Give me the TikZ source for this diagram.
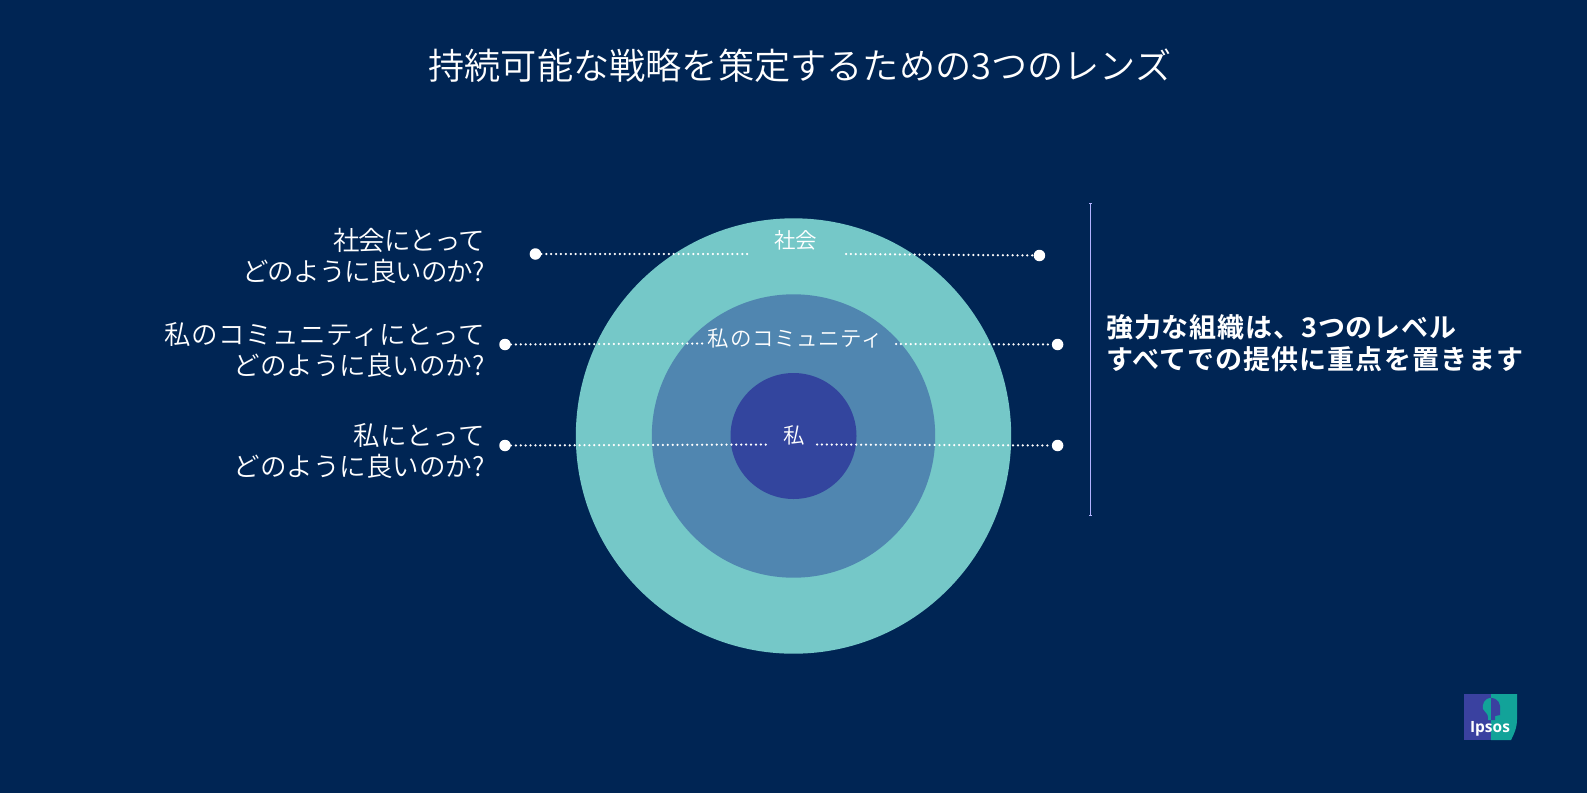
\documentclass[tikz,border=0pt]{standalone}
\usepackage{fontspec}
\setmainfont{Noto Sans CJK JP}[UprightFont=* DemiLight,BoldFont=* Bold]
\newfontfamily\logofont{Open Sans}
\newcommand{\spaced}[2]{{\addfontfeature{LetterSpace=#1}#2}}
\definecolor{navy}{HTML}{002554}
\definecolor{ringa}{HTML}{75C8C8}
\definecolor{ringb}{HTML}{5086B0}
\definecolor{ringc}{HTML}{33459E}
\definecolor{logob}{HTML}{3A41A0}
\definecolor{logot}{HTML}{12A399}
\tikzset{
  x=1pt,y=-1pt,
  dotnode/.style={circle,fill=white,draw=none,minimum size=11.5pt,inner sep=0pt},
  dotline/.style={white,line width=2.5pt,line cap=round,dash pattern=on 0pt off 4.9pt},
  q/.style={text=white,align=right,anchor=east,font=\fontsize{26.5}{31}\selectfont,inner sep=0pt},
  cl/.style={text=white,anchor=center,font=\fontsize{21.5}{25}\selectfont,inner sep=0pt},
  disc/.style={circle,draw=none,inner sep=0pt},
}
\begin{document}
\begin{tikzpicture}
\useasboundingbox (0,0) rectangle (1587,793);
\fill[navy] (0,0) rectangle (1587,793);
\node[text=white,inner sep=0pt,font=\fontsize{36.2}{42}\selectfont] (title) at (800,66) {持続可能な戦略を策定するための3つのレンズ};
\node[disc,fill=ringa,minimum size=435.4pt] (society) at (793.5,436) {};
\node[disc,fill=ringb,minimum size=283.4pt] (community) at (793.5,436) {};
\node[disc,fill=ringc,minimum size=126pt] (me) at (793.5,436) {};
\node[cl] (lsoc) at (795.5,240) {社会};
\node[cl] (lcom) at (795.5,338) {\spaced{3}{私のコミュニティ}};
\node[cl] (lme) at (794,435) {私};
\node[q] (qsoc) at (485,256) {\spaced{-4}{社会にとって}\\\spaced{-3.5}{どのように良いのか?}};
\node[q] (qcom) at (485,350) {\spaced{2}{私のコミュニティにとって}\\\spaced{0}{どのように良いのか?}};
\node[q] (qme) at (485,451) {\spaced{1}{私にとって}\\\spaced{0}{どのように良いのか?}};
\node[dotnode] (a1) at (535.4,254) {};
\node[dotnode] (b1) at (1039.4,255.5) {};
\node[dotnode] (a2) at (505,344.5) {};
\node[dotnode] (b2) at (1057.6,344.5) {};
\node[dotnode] (a3) at (505,445.5) {};
\node[dotnode] (b3) at (1057.6,445.5) {};
\coordinate (e1a) at (750,254);
\coordinate (e1b) at (846,254);
\coordinate (e2a) at (703,343.5);
\coordinate (e2b) at (896,344);
\coordinate (e3a) at (767,444.5);
\coordinate (e3b) at (817,444.5);
\draw[dotline] (a1) -- (e1a);
\draw[dotline] (e1b) -- (b1);
\draw[dotline] (a2) -- (e2a);
\draw[dotline] (e2b) -- (b2);
\draw[dotline] (a3) -- (e3a);
\draw[dotline] (e3b) -- (b3);
\coordinate (vt) at (1090.5,203);
\coordinate (vb) at (1090.5,515);
\draw[color=white!70!blue,line width=1pt] (vt) -- (vb);
\draw[color=white!70!blue,line width=0.9pt] ([xshift=-1.5pt]vt) -- ([xshift=1.5pt]vt);
\draw[color=white!70!blue,line width=0.9pt] ([xshift=-1.5pt]vb) -- ([xshift=1.5pt]vb);
\node[text=white,anchor=west,align=left,inner sep=0pt,font=\fontsize{27}{32.5}\bfseries\selectfont] (msg) at (1106,343) {\spaced{3.2}{強力な組織は、3つのレベル}\\\spaced{4}{すべてでの提供に重点を置きます}};
% logo
\begin{scope}[yshift=-1pt]
\def\logohead{(1491,697) .. controls (1484,697) and (1482,704) .. (1483,708) .. controls (1484,711) and (1488,712) .. (1488,716) -- (1488,719) -- (1495,719) -- (1495,715) -- (1500,714) -- (1500,709) .. controls (1501,703) and (1498,697) .. (1491,697) -- cycle}
\fill[logob] (1464,693) rectangle (1491,739);
\fill[logot] (1491,693) -- (1517,693) -- (1517,718) .. controls (1517,727) and (1514,733) .. (1511,739) -- (1491,739) -- cycle;
\begin{scope}
\clip (1464,693) rectangle (1491,739);
\fill[logot] \logohead;
\end{scope}
\begin{scope}
\clip (1491,693) rectangle (1517,739);
\fill[logob] \logohead;
\end{scope}
\end{scope}
\node[text=white,inner sep=0pt,font=\logofont\bfseries\fontsize{15.5}{16}\selectfont] (logo) at (1490,728.5) {Ipsos};
\end{tikzpicture}
\end{document}
